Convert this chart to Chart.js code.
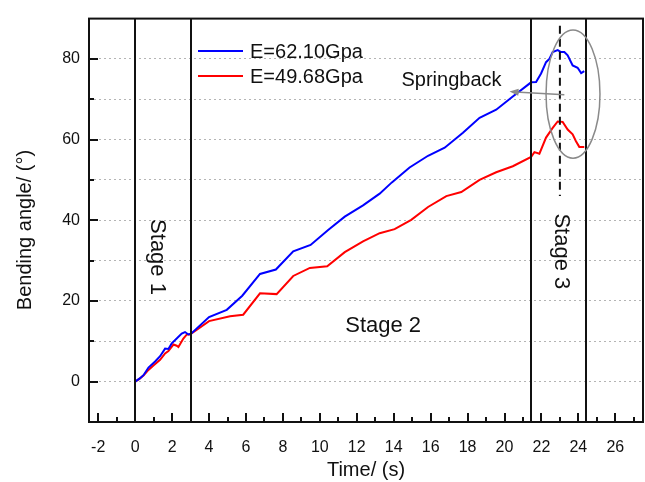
<!DOCTYPE html>
<html>
<head>
<meta charset="utf-8">
<title>Bending angle vs time</title>
<script src="https://cdn.jsdelivr.net/npm/chart.js@4.4.1/dist/chart.umd.min.js"></script>
<style>
  html, body { margin: 0; padding: 0; background: #fff; }
  canvas { display: block; }
</style>
</head>
<body>
<canvas id="angleChart" width="645" height="482"></canvas>
<script>
// E = 62.10 GPa
const timeBlue = [0, 0.25, 0.45, 0.72, 1.08, 1.35, 1.62, 1.8, 1.98, 2.25, 2.52, 2.7, 2.88, 3.03,
  4.0, 4.96, 5.8, 6.76, 7.62, 8.56, 9.5, 10.45, 11.35, 12.34, 13.24, 13.9, 14.86, 15.86, 16.76,
  17.75, 18.65, 19.55, 20.45, 21.44, 21.71, 21.98, 22.25, 22.43, 22.61, 22.88, 23.06, 23.24,
  23.42, 23.69, 23.96, 24.15, 24.32];
const angleBlue = [0, 0.8, 1.6, 3.5, 5.0, 6.3, 8.2, 8.1, 9.5, 10.7, 11.9, 12.3, 11.7, 11.9,
  16.0, 17.8, 21.3, 26.7, 27.8, 32.3, 33.9, 37.6, 40.9, 43.7, 46.6, 49.4, 53.1, 56.0, 58.0,
  61.7, 65.4, 67.4, 70.7, 74.2, 74.3, 76.4, 79.2, 80.0, 81.7, 82.2, 81.7, 81.7,
  80.9, 78.4, 77.8, 76.5, 77.0];

// E = 49.68 GPa
const timeRed = [0, 0.23, 0.45, 0.72, 0.99, 1.35, 1.62, 1.8, 2.07, 2.25, 2.34, 2.61, 2.8, 2.97,
  4.0, 5.14, 5.85, 6.76, 7.66, 8.56, 9.46, 10.4, 11.35, 12.34, 13.24, 14.05, 14.95, 15.86,
  16.85, 17.66, 18.65, 19.55, 20.45, 21.44, 21.62, 21.89, 22.25, 22.61, 22.88, 23.15, 23.42,
  23.69, 23.87, 24.05, 24.32];
const angleRed = [0, 0.7, 1.5, 2.9, 4.0, 5.4, 7.0, 7.6, 9.2, 8.9, 8.6, 10.7, 11.7, 11.7,
  15.0, 16.2, 16.6, 21.9, 21.7, 26.2, 28.2, 28.6, 32.1, 34.8, 36.8, 37.8, 40.1, 43.3,
  46.0, 47.0, 50.0, 51.9, 53.4, 55.7, 56.9, 56.5, 60.5, 62.9, 64.5, 64.4, 62.5,
  61.3, 59.6, 58.2, 58.2];

const seriesNames = ['E=62.10Gpa', 'E=49.68Gpa'];
const seriesColors = ['#0000ff', '#ff0000'];

const xTickValues = [-2, -1, 0, 1, 2, 3, 4, 5, 6, 7, 8, 9, 10, 11, 12, 13, 14, 15, 16, 17, 18,
  19, 20, 21, 22, 23, 24, 25, 26, 27];
const yTickLabels = [0, 20, 40, 60, 80];

// stage boundaries (s) and the springback marker
const stageBounds = [0, 3, 21.45, 24.4];
const springbackTime = 23;
const springbackSpan = [46, 88.2];
const stageNames = ['Stage 1', 'Stage 2', 'Stage 3'];
const stageLabelAt = [[1.17, 30.9], [13.43, 13.8], [23.06, 32.3]];

const FONT = '"Liberation Sans", Arial, Helvetica, sans-serif';
const INK = '#111';

function pts(xs, ys) {
  return xs.map((x, i) => ({ x: x, y: ys[i] }));
}

const decor = {
  id: 'decor',
  afterDatasetsDraw(chart) {
    const { ctx, chartArea: a, scales: { x, y } } = chart;
    ctx.save();

    // stage divider lines
    ctx.strokeStyle = INK;
    ctx.lineWidth = 2;
    stageBounds.forEach(t => {
      const px = Math.round(x.getPixelForValue(t));
      ctx.beginPath();
      ctx.moveTo(px, a.top);
      ctx.lineTo(px, a.bottom);
      ctx.stroke();
    });

    // dashed line at the springback instant
    ctx.setLineDash([8, 5]);
    ctx.beginPath();
    ctx.moveTo(x.getPixelForValue(springbackTime), y.getPixelForValue(springbackSpan[1]));
    ctx.lineTo(x.getPixelForValue(springbackTime), y.getPixelForValue(springbackSpan[0]));
    ctx.stroke();
    ctx.setLineDash([]);

    // ellipse round the springback region
    const cx = x.getPixelForValue(23.71), cy = y.getPixelForValue(71.3);
    const rx = x.getPixelForValue(23.71 + 1.46) - cx;
    const ry = cy - y.getPixelForValue(71.3 + 15.9);
    ctx.strokeStyle = '#8a8a8a';
    ctx.lineWidth = 1.5;
    ctx.beginPath();
    ctx.ellipse(cx, cy, rx, ry, 0, 0, Math.PI * 2);
    ctx.stroke();

    // arrow pointing to the label
    const x0 = x.getPixelForValue(23.24), y0 = y.getPixelForValue(71.1);
    const x1 = x.getPixelForValue(20.27), y1 = y.getPixelForValue(71.9);
    const ang = Math.atan2(y1 - y0, x1 - x0);
    ctx.strokeStyle = '#8a8a8a';
    ctx.fillStyle = '#8a8a8a';
    ctx.lineWidth = 1.5;
    ctx.beginPath();
    ctx.moveTo(x0, y0);
    ctx.lineTo(x1 - 6 * Math.cos(ang), y1 - 6 * Math.sin(ang));
    ctx.stroke();
    ctx.beginPath();
    ctx.moveTo(x1, y1);
    ctx.lineTo(x1 - 9 * Math.cos(ang) + 3.5 * Math.sin(ang), y1 - 9 * Math.sin(ang) - 3.5 * Math.cos(ang));
    ctx.lineTo(x1 - 9 * Math.cos(ang) - 3.5 * Math.sin(ang), y1 - 9 * Math.sin(ang) + 3.5 * Math.cos(ang));
    ctx.closePath();
    ctx.fill();

    // inward ticks
    ctx.strokeStyle = INK;
    ctx.lineWidth = 2;
    x.ticks.forEach(t => {
      const px = Math.round(x.getPixelForValue(t.value));
      const len = t.value % 2 === 0 ? 9 : 5;
      ctx.beginPath();
      ctx.moveTo(px, a.bottom);
      ctx.lineTo(px, a.bottom - len);
      ctx.stroke();
    });
    y.ticks.forEach(t => {
      if (t.value <= y.min || t.value >= y.max) return;
      const py = Math.round(y.getPixelForValue(t.value));
      const len = t.value % 20 === 0 ? 9 : 5;
      ctx.beginPath();
      ctx.moveTo(a.left, py);
      ctx.lineTo(a.left + len, py);
      ctx.stroke();
    });

    // frame
    ctx.strokeRect(a.left, a.top, a.right - a.left, a.bottom - a.top);

    // stage labels
    ctx.fillStyle = INK;
    ctx.font = '22px ' + FONT;
    ctx.textAlign = 'center';
    ctx.textBaseline = 'middle';
    stageNames.forEach((name, i) => {
      const px = x.getPixelForValue(stageLabelAt[i][0]);
      const py = y.getPixelForValue(stageLabelAt[i][1]);
      ctx.save();
      ctx.translate(px, py);
      if (i !== 1) ctx.rotate(Math.PI / 2);
      ctx.fillText(name, 0, 0);
      ctx.restore();
    });

    // springback label
    ctx.font = '20px ' + FONT;
    ctx.textAlign = 'right';
    ctx.fillText('Springback', x.getPixelForValue(19.84), y.getPixelForValue(74.6));

    // legend
    ctx.textAlign = 'left';
    seriesNames.forEach((name, i) => {
      const ly = a.top + 32.5 + i * 25;
      ctx.strokeStyle = seriesColors[i];
      ctx.lineWidth = 2;
      ctx.beginPath();
      ctx.moveTo(a.left + 109, ly);
      ctx.lineTo(a.left + 154, ly);
      ctx.stroke();
      ctx.fillText(name, a.left + 161, ly + 1);
    });

    // axis titles
    ctx.textAlign = 'center';
    ctx.fillText('Time/ (s)', (a.left + a.right) / 2, 470);
    ctx.save();
    ctx.translate(25, 230);
    ctx.rotate(-Math.PI / 2);
    ctx.fillText('Bending angle/ (°)', 0, 0);
    ctx.restore();

    ctx.restore();
  }
};

const ctx = document.getElementById('angleChart').getContext('2d');
new Chart(ctx, {
  type: 'line',
  data: {
    datasets: [
      { label: seriesNames[0], data: pts(timeBlue, angleBlue), borderColor: seriesColors[0],
        borderWidth: 2, pointRadius: 0, tension: 0 },
      { label: seriesNames[1], data: pts(timeRed, angleRed), borderColor: seriesColors[1],
        borderWidth: 2, pointRadius: 0, tension: 0 }
    ]
  },
  options: {
    responsive: false,
    animation: false,
    layout: { padding: { top: 12, right: 2, left: 0, bottom: 0 } },
    plugins: { legend: { display: false }, tooltip: { enabled: false } },
    scales: {
      x: {
        type: 'linear',
        min: -2.5,
        max: 27.5,
        afterBuildTicks: s => { s.ticks = xTickValues.map(v => ({ value: v })); },
        afterFit: s => { s.height = 60; },
        ticks: {
          autoSkip: false,
          maxRotation: 0,
          padding: 8,
          color: INK,
          font: { family: FONT, size: 16 },
          callback: v => (v % 2 === 0 ? String(v) : '')
        },
        grid: { display: false },
        border: { display: false }
      },
      y: {
        type: 'linear',
        min: -10,
        max: 90,
        afterFit: s => { s.width = 89; },
        ticks: {
          stepSize: 10,
          padding: 9,
          color: INK,
          font: { family: FONT, size: 16 },
          callback: v => (yTickLabels.includes(v) ? String(v) : '')
        },
        grid: {
          drawTicks: false,
          lineWidth: 1,
          color: c => (c.tick && c.tick.value > -10 && c.tick.value < 90 ? '#b4b4b4' : 'rgba(0,0,0,0)')
        },
        border: { display: false, dash: [2, 3] }
      }
    }
  },
  plugins: [decor]
});
</script>
</body>
</html>
